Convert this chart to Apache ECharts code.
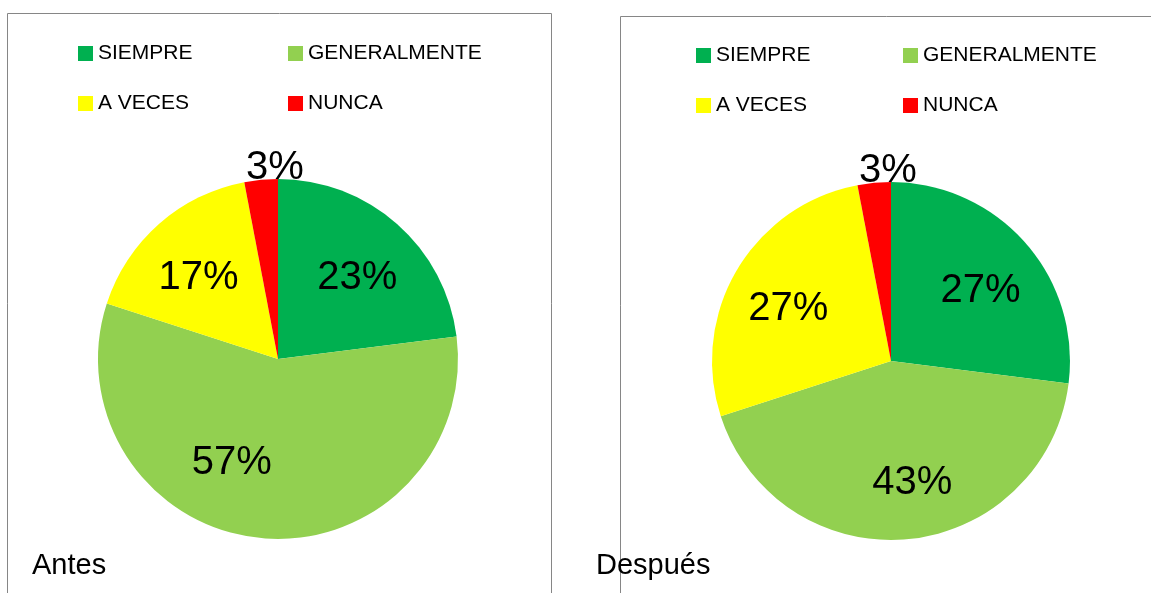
<!DOCTYPE html>
<html>
<head>
<meta charset="utf-8">
<script src="https://cdn.jsdelivr.net/npm/echarts@6/dist/echarts.min.js"></script>
<style>
html,body{margin:0;padding:0;background:#fff;}
#chart{width:1151px;height:593px;}
</style>
</head>
<body>
<div id="chart"></div>
<script>
// datos
var categorias = ['SIEMPRE', 'GENERALMENTE', 'A VECES', 'NUNCA'];
var colores = ['#00B050', '#92D050', '#FFFF00', '#FF0000'];
var antes = [23, 57, 17, 3];
var despues = [27, 43, 27, 3];
var titulos = ['Antes', 'Después'];

(function(){
	var myChart = echarts.init(document.getElementById('chart'));
	var fuente = '"Liberation Sans", Arial, sans-serif';

	// posiciones de cada grafico
	var paneles = [
		{valores: antes, centro: [278, 359], radio: 180, caja: [7, 13], leyenda: [73, 38], col2: 210, titulo: [32, 566],
			ajuste: {1: [-35, -24]}},
		{valores: despues, centro: [891, 361], radio: 179, caja: [620, 16], leyenda: [691, 40], col2: 207, titulo: [596, 566],
			ajuste: {1: [10, -6]}}
	];

	function datos(valores){
		return valores.map(function(v, i){
			return {name: categorias[i], value: v, itemStyle: {color: colores[i]}};
		});
	}

	var series = [], legend = [], graphic = [];

	paneles.forEach(function(p, k){
		// tarta
		series.push({
			type: 'pie',
			center: p.centro,
			radius: p.radio,
			startAngle: 90,
			clockwise: true,
			silent: true,
			animation: false,
			label: {show: false},
			labelLine: {show: false},
			itemStyle: {borderWidth: 0},
			data: datos(p.valores)
		});
		// etiquetas (serie transparente, solo texto)
		series.push({
			type: 'pie',
			center: p.centro,
			radius: [p.radio * 0.3, p.radio],
			startAngle: 90,
			silent: true,
			animation: false,
			legendHoverLink: false,
			avoidLabelOverlap: false,
			itemStyle: {color: 'rgba(0,0,0,0)', borderWidth: 0},
			label: {
				show: true,
				position: 'inside',
				formatter: '{c}%',
				color: '#000',
				fontSize: 40,
				fontFamily: fuente
			},
			labelLine: {show: false},
			labelLayout: function(params){
				// la porcion pequena va encima de la tarta
				if (params.dataIndex === 3) {
					return {
						x: params.rect.x + params.rect.width - 3,
						y: params.rect.y - 11,
						align: 'center',
						verticalAlign: 'middle'
					};
				}
				var a = p.ajuste[params.dataIndex] || [0, 0];
				return {dx: a[0], dy: 9 + a[1]};
			},
			data: datos(p.valores).map(function(d){ d.itemStyle = {color: 'rgba(0,0,0,0)'}; return d; })
		});
		// leyenda en dos columnas
		legend.push({
			orient: 'vertical', left: p.leyenda[0], top: p.leyenda[1],
			itemWidth: 15, itemHeight: 15, itemGap: 29, icon: 'rect',
			selectedMode: false,
			textStyle: {fontSize: 21, color: '#000', fontFamily: fuente},
			data: [categorias[0], categorias[2]]
		});
		legend.push({
			orient: 'vertical', left: p.leyenda[0] + p.col2, top: p.leyenda[1],
			itemWidth: 15, itemHeight: 15, itemGap: 29, icon: 'rect',
			selectedMode: false,
			textStyle: {fontSize: 21, color: '#000', fontFamily: fuente},
			data: [categorias[1], categorias[3]]
		});
		// marco
		graphic.push({
			type: 'rect', z: -1,
			shape: {x: p.caja[0] + 0.5, y: p.caja[1] + 0.5, width: k === 0 ? 544 : 600, height: 700},
			style: {fill: 'none', stroke: '#868686', lineWidth: 1}
		});
		graphic.push({
			type: 'text', z: 10,
			x: p.titulo[0], y: p.titulo[1],
			style: {text: titulos[k], font: '29px ' + fuente, fill: '#000', textVerticalAlign: 'middle'}
		});
	});

	myChart.setOption({
		animation: false,
		legend: legend,
		series: series,
		graphic: graphic
	});
	window.onresize = myChart.resize;
}());
</script>
</body>
</html>
